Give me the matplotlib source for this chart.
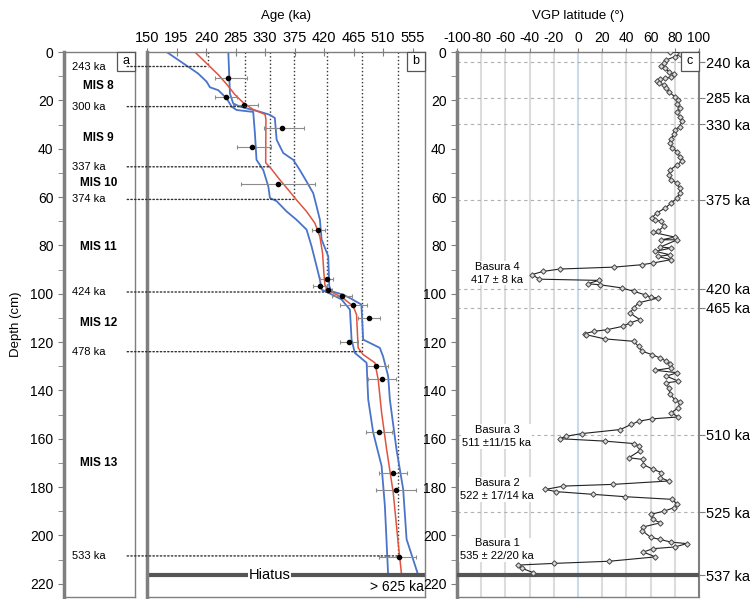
import matplotlib.pyplot as plt
from matplotlib.patches import ConnectionPatch, Rectangle
import numpy as np

plt.rcParams['font.family'] = ['Liberation Sans', 'DejaVu Sans']
plt.rcParams['axes.unicode_minus'] = False

# panel a - marine isotope stages and tie points
mis_labels = ['MIS 8', 'MIS 9', 'MIS 10', 'MIS 11', 'MIS 12', 'MIS 13']
mis_depth = [14, 35.7, 54, 80.5, 112, 170]
tie_ages = [243, 300, 337, 374, 424, 478, 533]
tie_depth = [6, 22.6, 47.5, 61, 99.3, 124, 208.5]

# panel b - age model (median and 95% bounds)
med_depth = [0, 5.4, 9.4, 13.5, 17.6, 21, 23.8, 25.8, 27.9, 45.8, 48, 52.9, 57, 61.2, 66,
             70.8, 76.4, 83.3, 91.5, 96.3, 98.4, 101.8, 105.2, 108.7, 122.4, 125.2, 128.6,
             135.5, 149.2, 164.3, 182.2, 202.9, 216.4]
med_age = [223, 243.5, 258.7, 272, 284, 296.8, 312, 330, 331.4, 331, 338.5, 352.7, 365.4, 378,
           393.4, 406, 413.7, 417.8, 419.8, 421.3, 424.9, 449, 464.5, 469.6, 472, 479.7, 497.6,
           502.6, 507.8, 515.4, 525.5, 533, 538.3]
lo_depth = [0, 4.7, 8.9, 12.3, 14.6, 15.8, 19.2, 22.6, 24, 24.8, 33.7, 44.6, 48.8, 55.6, 60.4,
            61.7, 66, 69.4, 73.5, 80.4, 88.7, 94.2, 98.3, 100.3, 102.4, 106.6, 119, 124.5,
            128.6, 143.8, 157.5, 171.3, 187.8, 216.4]
lo_age = [180, 205.3, 228, 241, 246, 258.7, 271.5, 279, 286.7, 312, 314.6, 317, 327.3, 335,
          337.5, 347.7, 363, 378, 393.4, 401, 408.7, 413.7, 416.3, 431.5, 446.8, 459.5, 462,
          467, 484.9, 487.4, 495, 507.8, 512.8, 517.8]
hi_depth = [0, 17.2, 21.3, 22.6, 24.7, 26, 27.3, 36.3, 41.8, 44.6, 48.8, 53.6, 58.4, 63.9,
            69.4, 77.6, 84.5, 96.9, 99, 100.4, 101.8, 104.5, 119, 122.4, 125.9, 134.1, 143.8,
            164.4, 180.9, 201.6, 216.4]
hi_age = [274, 276.5, 281.5, 291.8, 322, 337.5, 345, 347.7, 357.8, 373, 383, 393.4, 403.5,
          408.7, 413.7, 416.3, 426.4, 428, 431.5, 449, 459.5, 477, 479.7, 505, 510, 517.8,
          520.4, 530.5, 540.7, 545.9, 563.6]

# dated samples with uncertainty ranges
smp_depth = [10.6, 18.6, 21.9, 31.5, 39.5, 54.7, 73.8, 93.9, 96.7, 98.6, 100.8, 104.8, 110,
             120.1, 130, 135.2, 157.3, 174.3, 181.4, 209]
smp_age = [274, 270.4, 297.9, 355.3, 310, 350.2, 411, 424, 413.7, 426.4, 447.8, 463.5, 488,
           458.4, 500, 508.7, 503.7, 525.5, 529.6, 533.6]
smp_min = [253.7, 253.7, 281.5, 328, 286.7, 294, 401, 413.7, 403.5, 421, 431.5, 444, 472,
           444, 485, 487, 484, 504, 499, 504]
smp_max = [302, 286.7, 319.7, 389, 338.6, 406, 421, 433, 424, 432, 462, 485, 505, 472, 518,
           530, 524, 547, 560, 561]

# panel c - VGP latitude
vgp_depth = [0, 0.1, 1, 1.9, 3.3, 4.7, 5.6, 6.7, 8.1, 9.2, 10.2, 10.9, 11.3, 12, 12.9, 13.6,
             15, 16.4, 18.5, 19.8, 21.6, 23.3, 24.7, 26.7, 28.5, 30.9, 32.2, 34, 36, 37.7,
             39.8, 41.2, 43.3, 45, 46.7, 48.8, 50.8, 52.9, 54.3, 56.3, 58.4, 60.4, 62.5, 64.6,
             66.6, 68.7, 69.4, 70.1, 72.1, 74.2, 74.6, 76.6, 77.7, 77.7, 80.7, 81.1, 82.5,
             83.9, 84.6, 85.9, 87.3, 88, 89, 89.8, 90.8, 92.1, 94, 94.5, 95.9, 96.3, 97.6, 99,
             100.4, 101.4, 101.8, 103.8, 105.9, 108, 110.7, 112.1, 113.5, 114.9, 115.6, 116.5,
             117, 118.7, 119.7, 121.8, 123.8, 125.2, 126.6, 128, 129.3, 130.7, 131.7, 132.7,
             134.1, 136.2, 136.9, 139, 141.7, 143.8, 144.9, 147.2, 149.3, 151, 151.8, 152.8,
             154.1, 156.2, 157.9, 159, 160, 161, 162, 163, 165, 167.9, 168.6, 170.7, 172.7,
             174, 176.1, 177.5, 178.9, 179.6, 181, 181.9, 183, 184, 185.1, 187.2, 188.6, 190,
             191.3, 193.4, 194.8, 196.5, 198, 200.8, 201.7, 202.8, 203.4, 204.8, 205.5, 206.9,
             208.9, 210.7, 211.6, 212.3, 213.7, 215.4]
vgp_lat = [76, 86, 84, 80, 73, 71, 69, 72, 75, 79, 77, 72, 68, 65, 67, 71,
           73, 75, 80, 83, 82, 84, 82, 84, 86, 84, 80, 79, 77, 76,
           78, 82, 84, 86, 82, 76, 75, 77, 82, 84, 84, 82, 77, 72,
           65, 61, 64, 69, 71, 66, 62, 80, 69, 82, 68, 77, 64,
           76, 66, 77, 62, 53, 30, -15, -29, -38, -32, 17, 8, 18, 36, 46,
           55, 60, 66, 50, 46, 43, 51, 43, 37, 24, 13, 6,
           7, 22, 46, 50, 53, 61, 68, 73, 76, 77, 64, 82,
           73, 83, 73, 75, 76, 80, 84, 83, 77, 83, 61, 50,
           44, 35, 3, -10, -15, 22, 46, 50, 51, 42, 54, 54, 62,
           69, 68, 75, 29, -12, -27, -18, 12, 39, 78, 82, 79, 71,
           60, 62, 68, 54, 53, 60, 68, 77, 90, 80, 62, 54,
           64, 26, -20, -50, -46, -37]

# age ticks on the right of panel c
vgp_tie_depth = [4.3, 18.9, 29.8, 61.2, 98, 105.8, 158.3, 190.4, 216.5]
vgp_tie_labels = ['240 ka', '285 ka', '330 ka', '375 ka', '420 ka', '465 ka', '510 ka',
                  '525 ka', '537 ka']

basura_text = ['Basura 4\n417 ± 8 ka', 'Basura 3\n511 ±11/15 ka',
               'Basura 2\n522 ± 17/14 ka', 'Basura 1\n535 ± 22/20 ka']
basura_depth = [91.5, 159, 181, 206]

hiatus_depth = 216.5

fig = plt.figure(figsize=(7.5, 5.99), dpi=100)
W, H = 750, 599
bot, hgt = 1 - 597 / H, 545 / H
ax_a = fig.add_axes([64 / W, bot, 71 / W, hgt])
ax_b = fig.add_axes([147 / W, bot, 278 / W, hgt])
ax_c = fig.add_axes([457 / W, bot, 242 / W, hgt])

spine_col = '#7f7f7f'
for ax in (ax_a, ax_b, ax_c):
    ax.set_ylim(225.5, 0)
    for s in ax.spines.values():
        s.set_color(spine_col)
        s.set_linewidth(1)
    ax.spines['left'].set_linewidth(2.5)

# ---- panel a
ax_a.set_xlim(0, 1)
ax_a.set_xticks([])
ax_a.set_yticks(np.arange(0, 221, 20))
ax_a.set_yticks(np.arange(10, 221, 20), minor=True)
ax_a.tick_params(axis='y', which='both', direction='out', length=4, color=spine_col,
                 labelsize=10)
ax_a.set_ylabel('Depth (cm)', fontsize=9.5, labelpad=6)
for lab, d in zip(mis_labels, mis_depth):
    ax_a.text(0.49, d, lab, ha='center', va='center', fontsize=8.5, fontweight='bold')
for a, d in zip(tie_ages, tie_depth):
    ax_a.text(0.11, d, f'{a} ka', ha='left', va='center', fontsize=8)

# ---- panel b
ax_b.set_xlim(150, 574)
ax_b.xaxis.tick_top()
ax_b.xaxis.set_label_position('top')
ax_b.set_xticks(np.arange(150, 556, 45))
ax_b.tick_params(axis='x', direction='inout', length=6, color=spine_col, labelsize=10.5,
                 pad=2)
ax_b.set_yticks([])
ax_b.set_xlabel('Age (ka)', fontsize=9.5, labelpad=9)

for a, d in zip(tie_ages, tie_depth):
    con = ConnectionPatch(xyA=(0.89, d), coordsA=ax_a.get_yaxis_transform(),
                          xyB=(a, d), coordsB=ax_b.transData,
                          ls=':', color='#333333', lw=1)
    fig.add_artist(con)
    ax_b.plot([a, a], [0, d], ls=':', color='#333333', lw=1)

ax_b.plot(lo_age, lo_depth, color='#4a74c9', lw=1.3)
ax_b.plot(hi_age, hi_depth, color='#4a74c9', lw=1.3)
ax_b.plot(med_age, med_depth, color='#e0533f', lw=1.1)
xerr = [np.array(smp_age) - np.array(smp_min), np.array(smp_max) - np.array(smp_age)]
ax_b.errorbar(smp_age, smp_depth, xerr=xerr, fmt='o', color='black', ms=3,
              ecolor='#8c8c8c', elinewidth=0.8, capsize=1.5, capthick=0.8, zorder=5)

ax_b.axhline(hiatus_depth, color='#555555', lw=3)
ax_b.text(337, hiatus_depth, 'Hiatus', ha='center', va='center', fontsize=10.5,
          bbox=dict(fc='white', ec='none', pad=0.5))
ax_b.text(0.995, 221.2, '> 625 ka', ha='right', va='center', fontsize=10,
          transform=ax_b.get_yaxis_transform())

# ---- panel c
ax_c.set_xlim(-100, 100)
ax_c.xaxis.tick_top()
ax_c.xaxis.set_label_position('top')
ax_c.set_xticks(np.arange(-100, 101, 20))
ax_c.tick_params(axis='x', direction='out', length=3, color=spine_col, labelsize=10, pad=2)
ax_c.set_xlabel('VGP latitude (°)', fontsize=9.5, labelpad=9)
ax_c.set_yticks(np.arange(0, 221, 20))
ax_c.set_yticks(np.arange(10, 221, 20), minor=True)
ax_c.tick_params(axis='y', which='both', direction='out', length=4, color=spine_col,
                 labelsize=10)
ax_c.spines['right'].set_linewidth(1.5)
for v in np.arange(-80, 81, 20):
    ax_c.axvline(v, color='#c9dced' if v == 0 else '#dcdcdc', lw=1.5, zorder=0)
for d in vgp_tie_depth[:-1]:
    ax_c.axhline(d, color='#b0b0b0', ls='--', lw=0.8, dashes=(3, 3), zorder=1)
ax_c.axhline(hiatus_depth, color='#555555', lw=3, zorder=3)

ax_c.plot(vgp_lat, vgp_depth, color='#222222', lw=0.8, marker='D', ms=2.8,
          mfc='#d9d9d9', mec='#444444', mew=0.7, zorder=4)
for t, d in zip(basura_text, basura_depth):
    ax_c.text(-67, d, t, ha='center', va='center', fontsize=8, linespacing=1.4,
              bbox=dict(fc='white', ec='none', pad=0.5), zorder=5)

ax_r = ax_c.twinx()
ax_r.set_ylim(225.5, 0)
ax_r.set_yticks(vgp_tie_depth)
ax_r.set_yticklabels(vgp_tie_labels)
ax_r.tick_params(axis='y', direction='out', length=4, color=spine_col, labelsize=10.5, pad=1)
for s in ax_r.spines.values():
    s.set_visible(False)

# panel letters in corner boxes
for ax, letter, wpx in ((ax_a, 'a', 71), (ax_b, 'b', 278), (ax_c, 'c', 242)):
    bw, bh = 18 / wpx, 19 / 545
    ax.add_patch(Rectangle((1 - bw, 1 - bh), bw, bh, transform=ax.transAxes,
                           fc='white', ec='#555555', lw=0.9, zorder=6, clip_on=False))
    ax.text(1 - bw / 2, 1 - bh / 2, letter, transform=ax.transAxes, ha='center',
            va='center', fontsize=9, zorder=7)

fig.savefig('out.png', dpi=100)
